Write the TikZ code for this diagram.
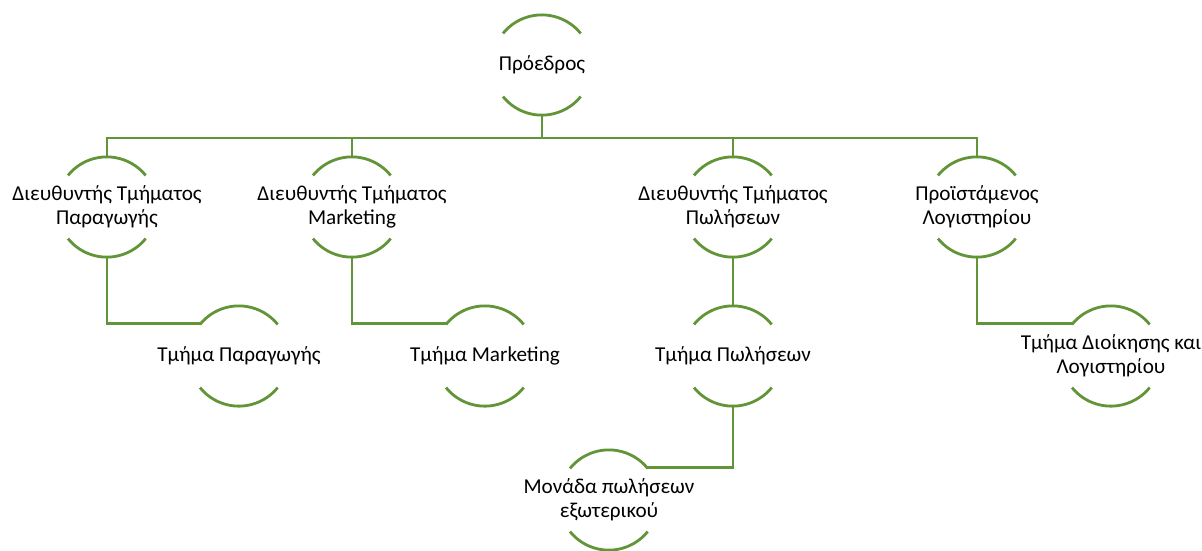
\documentclass[tikz,border=0pt]{standalone}
\usepackage{fontspec}
\setmainfont{Carlito}
\usetikzlibrary{positioning}
\definecolor{leafgreen}{RGB}{98,148,56}

\begin{document}
\begin{tikzpicture}[
  x=1pt, y=1pt,
  unit/.style={circle, minimum size=100pt, inner sep=0pt},
  txt/.style={font=\fontsize{21.2}{24}\selectfont, align=center, inner sep=0pt},
  arcline/.style={draw=leafgreen, line width=2.8pt},
  link/.style={draw=leafgreen, line width=2.8pt}
]
\useasboundingbox (0,0) rectangle (1202,-550);
% top
\node[unit, label={[txt]center:Πρόεδρος}] (pres) at (542,-65) {};
% directors
\node[unit, label={[txt]center:Διευθυντής Τμήματος\\Παραγωγής}]  (dprod) at (107,-207) {};
\node[unit, label={[txt]center:Διευθυντής Τμήματος\\Marketing}]  (dmark) at (352,-207) {};
\node[unit, label={[txt]center:Διευθυντής Τμήματος\\Πωλήσεων}]   (dsale) at (733,-207) {};
\node[unit, label={[txt]center:Προϊστάμενος\\Λογιστηρίου}]        (dacct) at (977,-207) {};
% departments
\node[unit, label={[txt]center:Τμήμα Παραγωγής}]                  (tprod) at (239,-356) {};
\node[unit, label={[txt]center:Τμήμα Marketing}]                  (tmark) at (485,-356) {};
\node[unit, label={[txt]center:Τμήμα Πωλήσεων}]                   (tsale) at (733,-356) {};
\node[unit, label={[txt]center:Τμήμα Διοίκησης και\\Λογιστηρίου}] (tacct) at (1111,-356) {};
\node[unit, label={[txt]center:Μονάδα πωλήσεων\\εξωτερικού}]      (abroad) at (609,-500) {};

% arcs above and below each name
\foreach \n in {pres,dprod,dmark,dsale,dacct,tprod,tmark,tsale,tacct,abroad} {
  \draw[arcline] (\n.141) arc[start angle=141, end angle=39, radius=50pt];
  \draw[arcline] (\n.219) arc[start angle=219, end angle=321, radius=50pt];
}

% connectors
\coordinate (bus) at (542,-138);
\draw[link] (pres.south) -- (bus);
\draw[link] (dprod.north) |- (bus);
\draw[link] (dmark.north) |- (bus);
\draw[link] (dsale.north) |- (bus);
\draw[link] (dacct.north) |- (bus);
\draw[link] (dprod.south) |- (tprod.140);
\draw[link] (dmark.south) |- (tmark.140);
\draw[link] (dsale.south) -- (tsale.north);
\draw[link] (dacct.south) |- (tacct.140);
\draw[link] (tsale.south) |- (abroad.40);
\end{tikzpicture}
\end{document}
